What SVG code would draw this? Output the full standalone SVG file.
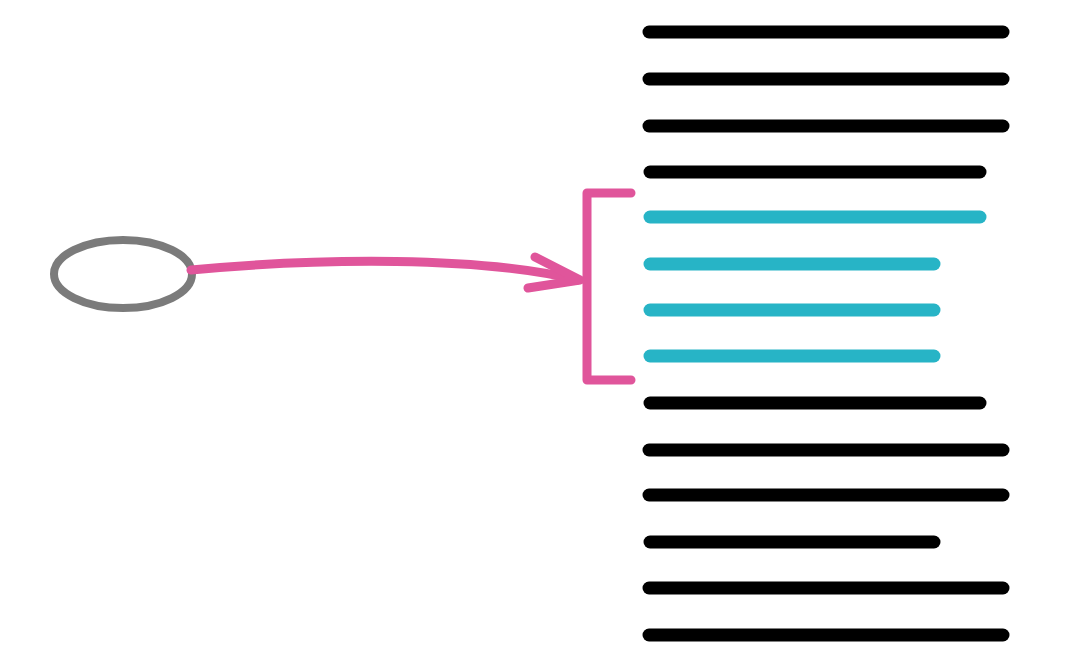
<svg xmlns="http://www.w3.org/2000/svg" width="1080" height="664" viewBox="0 0 1080 664">
<style>
.t{stroke-width:13;stroke-linecap:round;fill:none}
.k{stroke:#000}
.c{stroke:#27b4c6}
.p{stroke:#e0559b;fill:none;stroke-width:9;stroke-linecap:round;stroke-linejoin:round}
</style>
<rect width="1080" height="664" fill="#fff"/>
<g id="oval">
<ellipse cx="123" cy="274" rx="69" ry="34" fill="none" stroke="#7b7b7b" stroke-width="8"/>
</g>
<g id="text-lines">
<line class="t k" x1="649" y1="32" x2="1003" y2="32"/>
<line class="t k" x1="649" y1="79" x2="1003" y2="79"/>
<line class="t k" x1="649" y1="126" x2="1003" y2="126"/>
<line class="t k" x1="650" y1="172" x2="980" y2="172"/>
<line class="t c" x1="650" y1="217" x2="980" y2="217"/>
<line class="t c" x1="650" y1="264" x2="934" y2="264"/>
<line class="t c" x1="650" y1="310" x2="934" y2="310"/>
<line class="t c" x1="650" y1="356" x2="934" y2="356"/>
<line class="t k" x1="650" y1="403" x2="980" y2="403"/>
<line class="t k" x1="649" y1="450" x2="1003" y2="450"/>
<line class="t k" x1="649" y1="495" x2="1003" y2="495"/>
<line class="t k" x1="650" y1="542" x2="934" y2="542"/>
<line class="t k" x1="649" y1="588" x2="1003" y2="588"/>
<line class="t k" x1="649" y1="635" x2="1003" y2="635"/>
</g>
<g id="bracket">
<path class="p" d="M631 193 H587 V380 H631"/>
</g>
<g id="connectors">
<path class="p" d="M191 270 C320 258 480 256 578 280"/>
<path class="p" d="M535 257 L580 280 L528 288"/>
</g>
</svg>
